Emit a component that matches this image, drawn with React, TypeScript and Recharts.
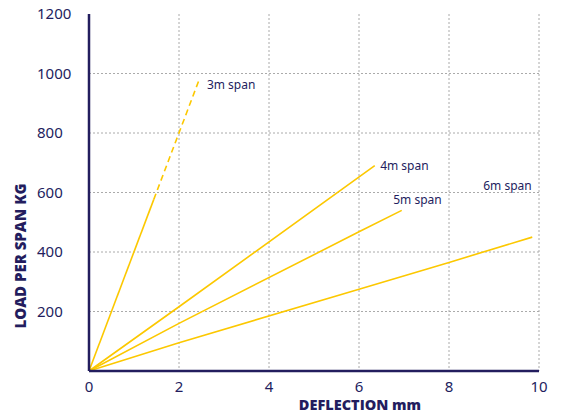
import { LineChart, Line, XAxis, YAxis, CartesianGrid, ReferenceDot } from 'recharts';

const NAVY = '#231d5e';
const YELLOW = '#fcc800';
const GRID = '#aaaaaa';

const X_TICKS = [0, 2, 4, 6, 8, 10];
const Y_TICKS = [200, 400, 600, 800, 1000, 1200];
const GRID_X = [2, 4, 6, 8, 10];
const GRID_Y = [200, 400, 600, 800, 1000];

// 3m span: solid part, then dashed extrapolation
const span3Solid = [
  { x: 0, y: 0 },
  { x: 1.44, y: 577 },
];
const span3Dashed = [
  { x: 1.44, y: 577 },
  { x: 2.45, y: 980 },
];
const span4 = [
  { x: 0, y: 0 },
  { x: 2, y: 216 },
  { x: 6.35, y: 690 },
];
const span5 = [
  { x: 0, y: 0 },
  { x: 2, y: 160 },
  { x: 6, y: 468 },
  { x: 6.95, y: 540 },
];
const span6 = [
  { x: 0, y: 0 },
  { x: 2, y: 95 },
  { x: 6, y: 275 },
  { x: 8, y: 365 },
  { x: 9.85, y: 450 },
];

const LABELS = [
  { text: '3m span', x: 2.62, y: 961 },
  { text: '4m span', x: 6.47, y: 689 },
  { text: '5m span', x: 6.76, y: 575 },
  { text: '6m span', x: 8.76, y: 622 },
];

const tickFont = { fontFamily: 'Noto Sans', fontSize: 15, fill: NAVY };

function YTick({ y, payload }: any) {
  return (
    <text x={37} y={y} dy={5} textAnchor="start" {...tickFont}>
      {payload.value}
    </text>
  );
}

function SpanLabel({ viewBox, text }: any) {
  const cx = viewBox.x + (viewBox.width || 0) / 2;
  const cy = viewBox.y + (viewBox.height || 0) / 2;
  return (
    <text x={cx} y={cy} dy={4} textAnchor="start" fontFamily="Noto Sans" fontSize={12} fill={NAVY}>
      {text}
    </text>
  );
}

export default function App() {
  return (
    <div style={{ position: 'absolute', left: 0, top: 0, background: 'white' }}>
      <LineChart width={562} height={414} margin={{ top: 14, right: 23, bottom: 13, left: 0 }}>
        <CartesianGrid
          stroke={GRID}
          strokeDasharray="2 2"
          horizontalValues={GRID_Y}
          verticalValues={GRID_X}
        />
        <XAxis
          type="number"
          dataKey="x"
          domain={[0, 10]}
          ticks={X_TICKS}
          interval={0}
          height={30}
          axisLine={{ stroke: NAVY, strokeWidth: 2.5 }}
          tickLine={false}
          tick={tickFont}
          tickMargin={4}
        />
        <YAxis
          type="number"
          dataKey="y"
          domain={[0, 1200]}
          ticks={Y_TICKS}
          interval={0}
          width={89}
          axisLine={{ stroke: NAVY, strokeWidth: 2.5 }}
          tickLine={false}
          tick={<YTick />}
        />
        <Line data={span3Solid} dataKey="y" stroke={YELLOW} strokeWidth={1.6} dot={false} isAnimationActive={false} />
        <Line data={span3Dashed} dataKey="y" stroke={YELLOW} strokeWidth={1.6} strokeDasharray="6 4" dot={false} isAnimationActive={false} />
        <Line data={span4} dataKey="y" stroke={YELLOW} strokeWidth={1.6} dot={false} isAnimationActive={false} />
        <Line data={span5} dataKey="y" stroke={YELLOW} strokeWidth={1.6} dot={false} isAnimationActive={false} />
        <Line data={span6} dataKey="y" stroke={YELLOW} strokeWidth={1.6} dot={false} isAnimationActive={false} />
        {LABELS.map((l) => (
          <ReferenceDot
            key={l.text}
            x={l.x}
            y={l.y}
            r={0}
            fill="none"
            stroke="none"
            label={<SpanLabel text={l.text} />}
          />
        ))}
        <text x={20} y={256} transform="rotate(-90 20 256)" textAnchor="middle" dominantBaseline="central"
          fontFamily="Open Sans" fontWeight={800} fontSize={15} fill={NAVY}>
          LOAD PER SPAN KG
        </text>
        <text x={360} y={404} textAnchor="middle" dominantBaseline="central"
          fontFamily="Open Sans" fontWeight={800} fontSize={14.5} fill={NAVY}>
          DEFLECTION mm
        </text>
      </LineChart>
    </div>
  );
}
